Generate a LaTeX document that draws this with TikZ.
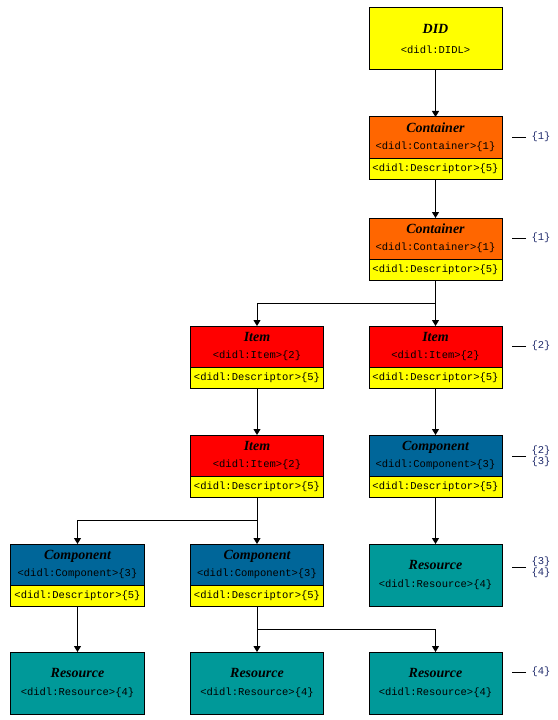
\documentclass[tikz,border=0pt]{standalone}
\usepackage{fontspec}
\setmainfont{Liberation Serif}
\setmonofont{Liberation Mono}
\usetikzlibrary{positioning, arrows.meta}
\definecolor{didyellow}{HTML}{FFFF00}
\definecolor{didorange}{HTML}{FF6600}
\definecolor{didred}{HTML}{FF0000}
\definecolor{didblue}{HTML}{006699}
\definecolor{didteal}{HTML}{009999}
\definecolor{idnavy}{HTML}{1F2A6B}
\newcommand{\boxtitle}[1]{{\fontsize{14bp}{16bp}\selectfont\bfseries\itshape #1}}
\newcommand{\boxtag}[1]{{\fontsize{10.5bp}{12.6bp}\selectfont\ttfamily #1}}

\begin{document}
\begin{tikzpicture}[x=1bp, y=-1bp, line width=1bp,
  box/.style={draw, minimum width=133bp, inner sep=0pt, outer sep=0pt, align=center},
  headbox/.style={box, minimum height=41bp},
  fullbox/.style={box, minimum height=62bp},
  descbox/.style={box, fill=didyellow, minimum height=21bp, below=0pt of #1},
  arrowdown/.style={-{Triangle[length=6bp, width=7bp]}},
  idlabel/.style={right, font=\fontsize{10.5bp}{11bp}\selectfont\ttfamily, text=idnavy, align=left, inner sep=0pt}]
  \useasboundingbox (0,0) rectangle (558,720);
  % 顶层 DID
  \node[fullbox, fill=didyellow] (did) at (435.5,39) {\boxtitle{DID}\\[8bp]\boxtag{<didl:DIDL>}};
  % 两个 Container
  \node[headbox, fill=didorange] (cont1) at (435.5,137.5) {\boxtitle{Container}\\[5bp]\boxtag{<didl:Container>\{1\}}};
  \node[descbox=cont1] (cont1d) {\boxtag{<didl:Descriptor>\{5\}}};
  \node[headbox, fill=didorange] (cont2) at (435.5,238.5) {\boxtitle{Container}\\[5bp]\boxtag{<didl:Container>\{1\}}};
  \node[descbox=cont2] (cont2d) {\boxtag{<didl:Descriptor>\{5\}}};
  % Item 行
  \node[headbox, fill=didred] (item1) at (257,346.5) {\boxtitle{Item}\\[5bp]\boxtag{<didl:Item>\{2\}}};
  \node[descbox=item1] (item1d) {\boxtag{<didl:Descriptor>\{5\}}};
  \node[headbox, fill=didred] (item2) at (435.5,346.5) {\boxtitle{Item}\\[5bp]\boxtag{<didl:Item>\{2\}}};
  \node[descbox=item2] (item2d) {\boxtag{<didl:Descriptor>\{5\}}};
  \node[headbox, fill=didred] (item3) at (257,455.5) {\boxtitle{Item}\\[5bp]\boxtag{<didl:Item>\{2\}}};
  \node[descbox=item3] (item3d) {\boxtag{<didl:Descriptor>\{5\}}};
  % Component
  \node[headbox, fill=didblue] (comp1) at (435.5,455.5) {\boxtitle{Component}\\[5bp]\boxtag{<didl:Component>\{3\}}};
  \node[descbox=comp1] (comp1d) {\boxtag{<didl:Descriptor>\{5\}}};
  \node[headbox, fill=didblue] (comp2) at (77.5,564.5) {\boxtitle{Component}\\[5bp]\boxtag{<didl:Component>\{3\}}};
  \node[descbox=comp2] (comp2d) {\boxtag{<didl:Descriptor>\{5\}}};
  \node[headbox, fill=didblue] (comp3) at (257,564.5) {\boxtitle{Component}\\[5bp]\boxtag{<didl:Component>\{3\}}};
  \node[descbox=comp3] (comp3d) {\boxtag{<didl:Descriptor>\{5\}}};
  % Resource
  \node[fullbox, fill=didteal] (res1) at (435.5,575) {\boxtitle{Resource}\\[7bp]\boxtag{<didl:Resource>\{4\}}};
  \node[fullbox, fill=didteal] (res2) at (77.5,683) {\boxtitle{Resource}\\[7bp]\boxtag{<didl:Resource>\{4\}}};
  \node[fullbox, fill=didteal] (res3) at (257,683) {\boxtitle{Resource}\\[7bp]\boxtag{<didl:Resource>\{4\}}};
  \node[fullbox, fill=didteal] (res4) at (435.5,683) {\boxtitle{Resource}\\[7bp]\boxtag{<didl:Resource>\{4\}}};
  % 连线
  \draw[arrowdown] (did.south) -- (cont1.north);
  \draw[arrowdown] (cont1d.south) -- (cont2.north);
  \draw[arrowdown] (cont2d.south) -- (item2.north);
  \draw[arrowdown] (cont2d.south) -- ++(0,23) -| (item1.north);
  \draw[arrowdown] (item1d.south) -- (item3.north);
  \draw[arrowdown] (item2d.south) -- (comp1.north);
  \draw[arrowdown] (comp1d.south) -- (res1.north);
  \draw[arrowdown] (item3d.south) -- (comp3.north);
  \draw[arrowdown] (item3d.south) -- ++(0,23) -| (comp2.north);
  \draw[arrowdown] (comp2d.south) -- (res2.north);
  \draw[arrowdown] (comp3d.south) -- (res3.north);
  \draw[arrowdown] (comp3d.south) -- ++(0,23) -| (res4.north);
  % 右侧编号
  \node[idlabel] (lab1) at (531,137) {\{1\}};
  \node[idlabel] (lab2) at (531,238) {\{1\}};
  \node[idlabel] (lab3) at (531,346) {\{2\}};
  \node[idlabel] (lab4) at (531,456) {\{2\}\\\{3\}};
  \node[idlabel] (lab5) at (531,567) {\{3\}\\\{4\}};
  \node[idlabel] (lab6) at (531,672) {\{4\}};
  \foreach \l in {lab1,lab2,lab3,lab4,lab5,lab6}
    \draw ([xshift=-5bp]\l.west) -- ++(-14,0);
\end{tikzpicture}
\end{document}
